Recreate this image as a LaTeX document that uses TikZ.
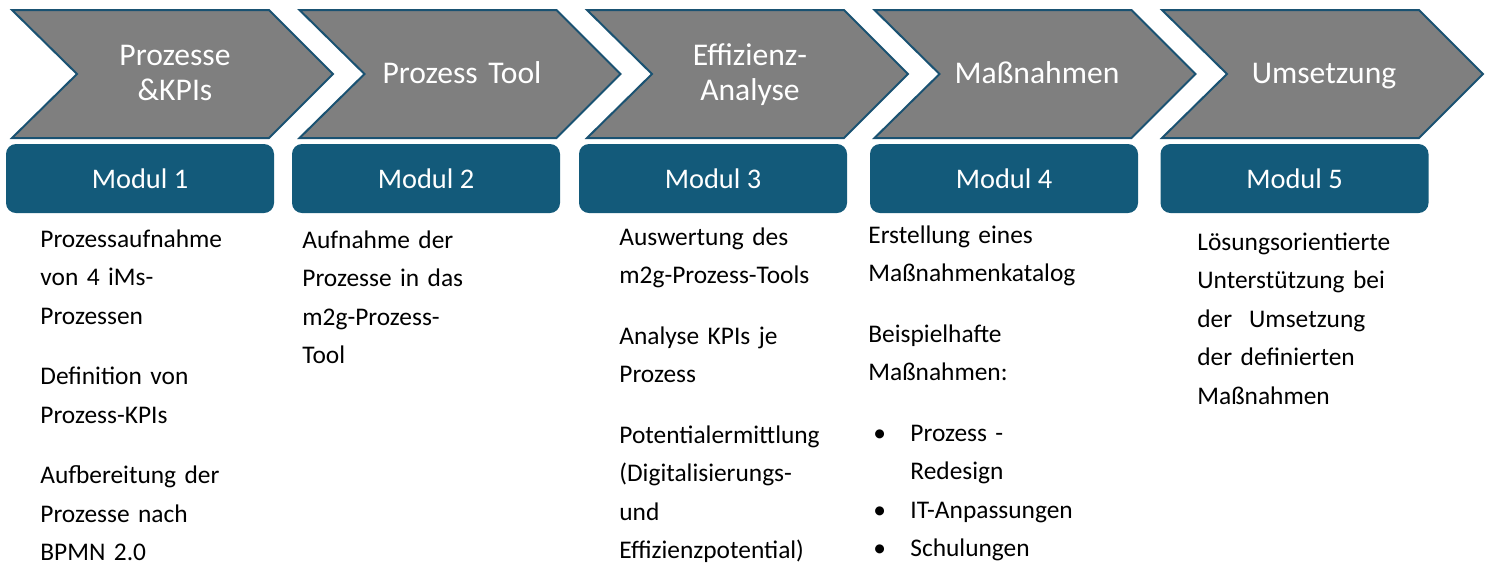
\documentclass[tikz,border=0pt]{standalone}
\usepackage{fontspec}
\setmainfont{Carlito}
\usetikzlibrary{positioning}
\definecolor{chevgray}{HTML}{7F7F7F}
\definecolor{chevedge}{HTML}{1A5272}
\definecolor{modblue}{HTML}{135A7A}

\begin{document}
\begin{tikzpicture}[x=0.5pt,y=-0.5pt,
		chevron/.style={fill=chevgray, draw=chevedge, line width=1pt},
		steptext/.style={anchor=base, text width=120pt, align=center, inner sep=0pt, text=white, font=\fontsize{15.8}{17.5}\selectfont},
		modbox/.style={fill=modblue, rounded corners=5pt, minimum width=134pt, minimum height=34.5pt, inner sep=0pt, text=white, font=\fontsize{14.2}{17}\selectfont},
		bodytext/.style={anchor=base west, text width=150pt, align=left, inner sep=0pt, font=\fontsize{12.7}{19.25}\selectfont}]
		\useasboundingbox (0,0) rectangle (1489,564);

		% chevrons
		\draw[chevron] (12,10) -- ++(257,0) -- ++(64,64) -- ++(-64,64) -- ++(-257,0) -- ++(65,-64) -- cycle;
		\draw[chevron] (299.5,10) -- ++(257,0) -- ++(64,64) -- ++(-64,64) -- ++(-257,0) -- ++(65,-64) -- cycle;
		\draw[chevron] (587,10) -- ++(257,0) -- ++(64,64) -- ++(-64,64) -- ++(-257,0) -- ++(65,-64) -- cycle;
		\draw[chevron] (874.5,10) -- ++(257,0) -- ++(64,64) -- ++(-64,64) -- ++(-257,0) -- ++(65,-64) -- cycle;
		\draw[chevron] (1162,10) -- ++(257,0) -- ++(64,64) -- ++(-64,64) -- ++(-257,0) -- ++(65,-64) -- cycle;

		\node[steptext] (step1) at (175,65) {Prozesse\\\&KPIs};
		\node[steptext] (step2) at (462,83) {Prozess Tool};
		\node[steptext] (step3) at (750,65) {Effizienz-\\Analyse};
		\node[steptext] (step4) at (1037,83) {Maßnahmen};
		\node[steptext] (step5) at (1324,83) {Umsetzung};

		% module boxes
		\node[modbox] (modul1) at (140,178.5) {Modul 1};
		\node[modbox] (modul2) at (426,178.5) {Modul 2};
		\node[modbox] (modul3) at (713,178.5) {Modul 3};
		\node[modbox] (modul4) at (1004,178.5) {Modul 4};
		\node[modbox] (modul5) at (1294.5,178.5) {Modul 5};

		% descriptions
		\node[bodytext] (info1) at (40,247) {Prozessaufnahme\\von 4 iMs-\\Prozessen\\[11pt]
			Definition von\\Prozess-KPIs\\[11pt]
			Aufbereitung der\\Prozesse nach\\BPMN 2.0};
		\node[bodytext] (info2) at (302,248) {Aufnahme der\\Prozesse in das\\m2g-Prozess-\\Tool};
		\node[bodytext] (info3) at (619,245) {Auswertung des\\m2g-Prozess-Tools\\[11pt]
			Analyse KPIs je\\Prozess\\[11pt]
			Potentialermittlung\\(Digitalisierungs-\\und\\Effizienzpotential)};
		\node[bodytext] (info4) at (868,243) {Erstellung eines\\Maßnahmenkatalog\\[11pt]
			Beispielhafte\\Maßnahmen:\\[11pt]
			\hspace*{2.5pt}\makebox[18.5pt][l]{\textbullet}Prozess -\\
			\hspace*{21pt}Redesign\\
			\hspace*{2.5pt}\makebox[18.5pt][l]{\textbullet}IT-Anpassungen\\
			\hspace*{2.5pt}\makebox[18.5pt][l]{\textbullet}Schulungen};
		\node[bodytext] (info5) at (1197,250) {Lösungsorientierte\\Unterstützung bei\\der\ \ Umsetzung\\der definierten\\Maßnahmen};
\end{tikzpicture}
\end{document}
